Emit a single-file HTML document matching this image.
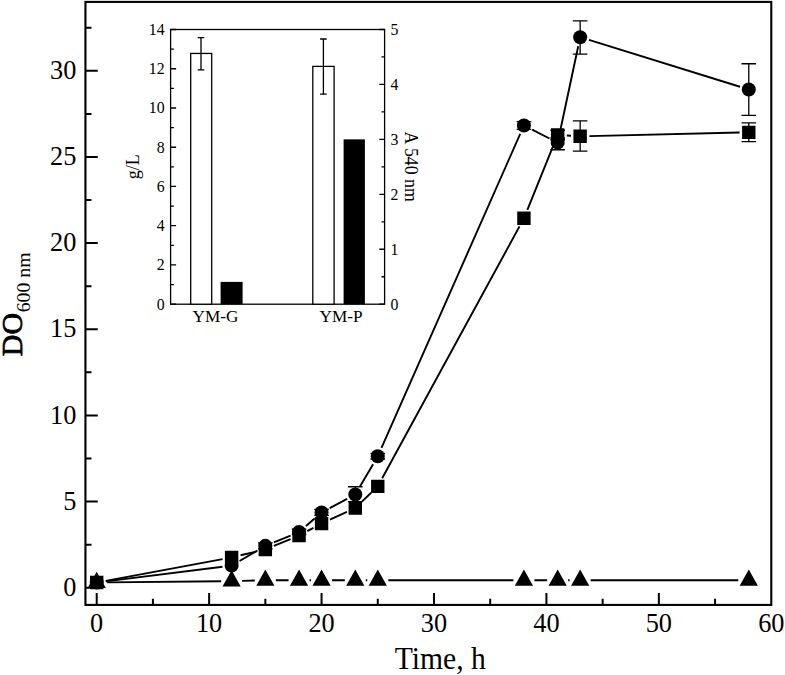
<!DOCTYPE html>
<html><head><meta charset="utf-8"><style>
html,body{margin:0;padding:0;background:#fff;}
body{width:785px;height:675px;overflow:hidden;}
svg{display:block;font-family:"Liberation Serif",serif;}
</style></head><body>
<svg width="785" height="675" viewBox="0 0 785 675">
<rect x="85.46" y="1.91" width="685.82" height="603.01" fill="none" stroke="#000" stroke-width="2.1"/>
<path d="M96.7 604.93V592.93M209.13 604.93V592.93M321.56 604.93V592.93M433.99 604.93V592.93M546.42 604.93V592.93M658.85 604.93V592.93M152.92 604.93V598.63M265.35 604.93V598.63M377.77 604.93V598.63M490.2 604.93V598.63M602.63 604.93V598.63M715.07 604.93V598.63M85.46 587.7H97.76M85.46 501.56H97.76M85.46 415.41H97.76M85.46 329.27H97.76M85.46 243.12H97.76M85.46 156.98H97.76M85.46 70.83H97.76M85.46 544.63H91.46M85.46 458.48H91.46M85.46 372.34H91.46M85.46 286.19H91.46M85.46 200.05H91.46M85.46 113.9H91.46M85.46 27.76H91.46" stroke="#000" stroke-width="2" fill="none"/>
<text x="96.7" y="631.6" font-size="26.3" text-anchor="middle">0</text>
<text x="209.13" y="631.6" font-size="26.3" text-anchor="middle">10</text>
<text x="321.56" y="631.6" font-size="26.3" text-anchor="middle">20</text>
<text x="433.99" y="631.6" font-size="26.3" text-anchor="middle">30</text>
<text x="546.42" y="631.6" font-size="26.3" text-anchor="middle">40</text>
<text x="658.85" y="631.6" font-size="26.3" text-anchor="middle">50</text>
<text x="771.28" y="631.6" font-size="26.3" text-anchor="middle">60</text>
<text x="76.3" y="595.9" font-size="26.3" text-anchor="end">0</text>
<text x="76.3" y="509.76" font-size="26.3" text-anchor="end">5</text>
<text x="76.3" y="423.61" font-size="26.3" text-anchor="end">10</text>
<text x="76.3" y="337.47" font-size="26.3" text-anchor="end">15</text>
<text x="76.3" y="251.32" font-size="26.3" text-anchor="end">20</text>
<text x="76.3" y="165.18" font-size="26.3" text-anchor="end">25</text>
<text x="76.3" y="79.03" font-size="26.3" text-anchor="end">30</text>
<text transform="translate(394.8 668.8) scale(1 1.06)" font-size="29.6">Time, h</text>
<text transform="translate(21.9 356.2) rotate(-90)" font-size="30" stroke="#000" stroke-width="0.75">DO</text>
<text transform="translate(30.4 312.3) rotate(-90)" font-size="19.8">600 nm</text>
<rect x="170.6" y="29.5" width="214" height="274.7" fill="none" stroke="#000" stroke-width="1.3"/>
<path d="M170.6 304.2H176.1M170.6 264.96H176.1M170.6 225.71H176.1M170.6 186.47H176.1M170.6 147.23H176.1M170.6 107.99H176.1M170.6 68.74H176.1M170.6 29.5H176.1M170.6 284.58H173.9M170.6 245.34H173.9M170.6 206.09H173.9M170.6 166.85H173.9M170.6 127.61H173.9M170.6 88.36H173.9M170.6 49.12H173.9M384.6 304.2H379.3M384.6 249.26H379.3M384.6 194.32H379.3M384.6 139.38H379.3M384.6 84.44H379.3M384.6 29.5H379.3M384.6 276.73H381.5M384.6 221.79H381.5M384.6 166.85H381.5M384.6 111.91H381.5M384.6 56.97H381.5" stroke="#000" stroke-width="1.3" fill="none"/>
<text x="164.6" y="309.6" font-size="15.8" text-anchor="end">0</text>
<text x="164.6" y="270.36" font-size="15.8" text-anchor="end">2</text>
<text x="164.6" y="231.11" font-size="15.8" text-anchor="end">4</text>
<text x="164.6" y="191.87" font-size="15.8" text-anchor="end">6</text>
<text x="164.6" y="152.63" font-size="15.8" text-anchor="end">8</text>
<text x="164.6" y="113.39" font-size="15.8" text-anchor="end">10</text>
<text x="164.6" y="74.14" font-size="15.8" text-anchor="end">12</text>
<text x="164.6" y="34.9" font-size="15.8" text-anchor="end">14</text>
<text x="390.4" y="309.6" font-size="15.8">0</text>
<text x="390.4" y="254.66" font-size="15.8">1</text>
<text x="390.4" y="199.72" font-size="15.8">2</text>
<text x="390.4" y="144.78" font-size="15.8">3</text>
<text x="390.4" y="89.84" font-size="15.8">4</text>
<text x="390.4" y="34.9" font-size="15.8">5</text>
<rect x="190.7" y="53.44" width="21" height="250.76" fill="#fff" stroke="#000" stroke-width="1.3"/>
<rect x="220.6" y="281.89" width="22" height="22.31" fill="#000"/>
<rect x="312.8" y="66.39" width="21.3" height="237.81" fill="#fff" stroke="#000" stroke-width="1.3"/>
<rect x="343.6" y="139.38" width="21.3" height="164.82" fill="#000"/>
<path d="M201 37.7V69.9M197.7 37.7H204.3M197.7 69.9H204.3" stroke="#000" stroke-width="1.3" fill="none"/>
<path d="M323.4 39V94.2M320.1 39H326.7M320.1 94.2H326.7" stroke="#000" stroke-width="1.3" fill="none"/>
<text x="215.4" y="321.8" font-size="17.2" text-anchor="middle">YM-G</text>
<text x="341.0" y="321.5" font-size="17.2" text-anchor="middle">YM-P</text>
<text transform="translate(139.0 179.2) rotate(-90)" font-size="18">g/L</text>
<text transform="translate(405.1 131.6) rotate(90)" font-size="17.8">A 540 nm</text>
<path d="M107.2 582.42L221.12 581.26M242.11 580.88L254.85 580.56M275.85 580.29L288.57 580.29M309.57 580.29L311.06 580.29M332.06 580.29L344.79 580.29M365.79 580.29L367.27 580.29M388.27 580.29L513.43 580.29M534.43 580.29L547.16 580.29M568.16 580.29L569.65 580.29M590.65 580.29L738.29 580.29" stroke="#000" stroke-width="1.9" fill="none"/>
<path d="M105.74 580.85L222.57 559.06M240.57 555.27L256.39 551.56M273.85 545.93L290.57 539.01M307.21 531.2L313.43 527.91M329.9 519.73L346.95 511.81M361.93 501.57L371.13 492.76M382.18 478.32L519.53 226.39M527.38 209.78L554.21 143.45M566.85 135.48L570.97 135.74M589.35 136.08L739.6 132.55" stroke="#000" stroke-width="1.9" fill="none"/>
<path d="M105.83 581.39L222.49 566.79M239.55 560.99L257.41 550.49M273.86 542.35L290.56 535.53M306 526L314.63 518.46M329.68 508.09L347.16 498.81M359.95 486.56L373.11 464.17M381.49 447.83L520.22 133.86M532.13 129.63L549.47 138.49M559.58 133.68L578.23 46.23M588.94 39.95L740.01 86.72" stroke="#000" stroke-width="1.9" fill="none"/>
<path d="M377.77 453.31V459M370.47 453.31H385.07M370.47 459H385.07M265.35 542.9V548.93M258.05 542.9H272.65M258.05 548.93H272.65M355.29 486.74V501.56M347.99 486.74H362.59M347.99 501.56H362.59M523.93 121.66V129.41M516.63 121.66H531.23M516.63 129.41H531.23M557.66 138.02V149.74M550.36 138.02H564.96M550.36 149.74H564.96M580.15 20.87V54.12M572.85 20.87H587.45M572.85 54.12H587.45M748.79 63.77V115.28M741.49 63.77H756.09M741.49 115.28H756.09M321.56 509.31V515.34M314.26 509.31H328.86M314.26 515.34H328.86M299.07 529.12V534.29M291.77 529.12H306.37M291.77 534.29H306.37M580.15 120.79V151.12M572.85 120.79H587.45M572.85 151.12H587.45M748.79 122.86V141.64M741.49 122.86H756.09M741.49 141.64H756.09M557.66 130.27V139.75M550.36 130.27H564.96M550.36 139.75H564.96" stroke="#000" stroke-width="1.3" fill="none"/>
<path d="M96.7 571.73L105.8 587.93L87.6 587.93ZM231.62 570.35L240.72 586.55L222.52 586.55ZM265.35 569.49L274.45 585.69L256.25 585.69ZM299.07 569.49L308.17 585.69L289.97 585.69ZM321.56 569.49L330.66 585.69L312.46 585.69ZM355.29 569.49L364.39 585.69L346.19 585.69ZM377.77 569.49L386.88 585.69L368.67 585.69ZM523.93 569.49L533.03 585.69L514.83 585.69ZM557.66 569.49L566.76 585.69L548.56 585.69ZM580.15 569.49L589.25 585.69L571.05 585.69ZM748.79 569.49L757.89 585.69L739.69 585.69ZM90 575.83h13.4v13.4h-13.4ZM224.92 550.68h13.4v13.4h-13.4ZM258.65 542.75h13.4v13.4h-13.4ZM292.37 528.8h13.4v13.4h-13.4ZM314.86 516.91h13.4v13.4h-13.4ZM348.59 501.23h13.4v13.4h-13.4ZM371.07 479.69h13.4v13.4h-13.4ZM517.23 211.61h13.4v13.4h-13.4ZM550.96 128.22h13.4v13.4h-13.4ZM573.45 129.6h13.4v13.4h-13.4ZM742.09 125.64h13.4v13.4h-13.4Z" fill="#000"/>
<circle cx="96.7" cy="582.53" r="7.0" fill="#000"/>
<circle cx="231.62" cy="565.65" r="7.0" fill="#000"/>
<circle cx="265.35" cy="545.83" r="7.0" fill="#000"/>
<circle cx="299.07" cy="532.05" r="7.0" fill="#000"/>
<circle cx="321.56" cy="512.41" r="7.0" fill="#000"/>
<circle cx="355.29" cy="494.49" r="7.0" fill="#000"/>
<circle cx="377.77" cy="456.24" r="7.0" fill="#000"/>
<circle cx="523.93" cy="125.45" r="7.0" fill="#000"/>
<circle cx="557.66" cy="142.67" r="7.0" fill="#000"/>
<circle cx="580.15" cy="37.23" r="7.0" fill="#000"/>
<circle cx="748.79" cy="89.44" r="7.0" fill="#000"/>
</svg>
</body></html>
